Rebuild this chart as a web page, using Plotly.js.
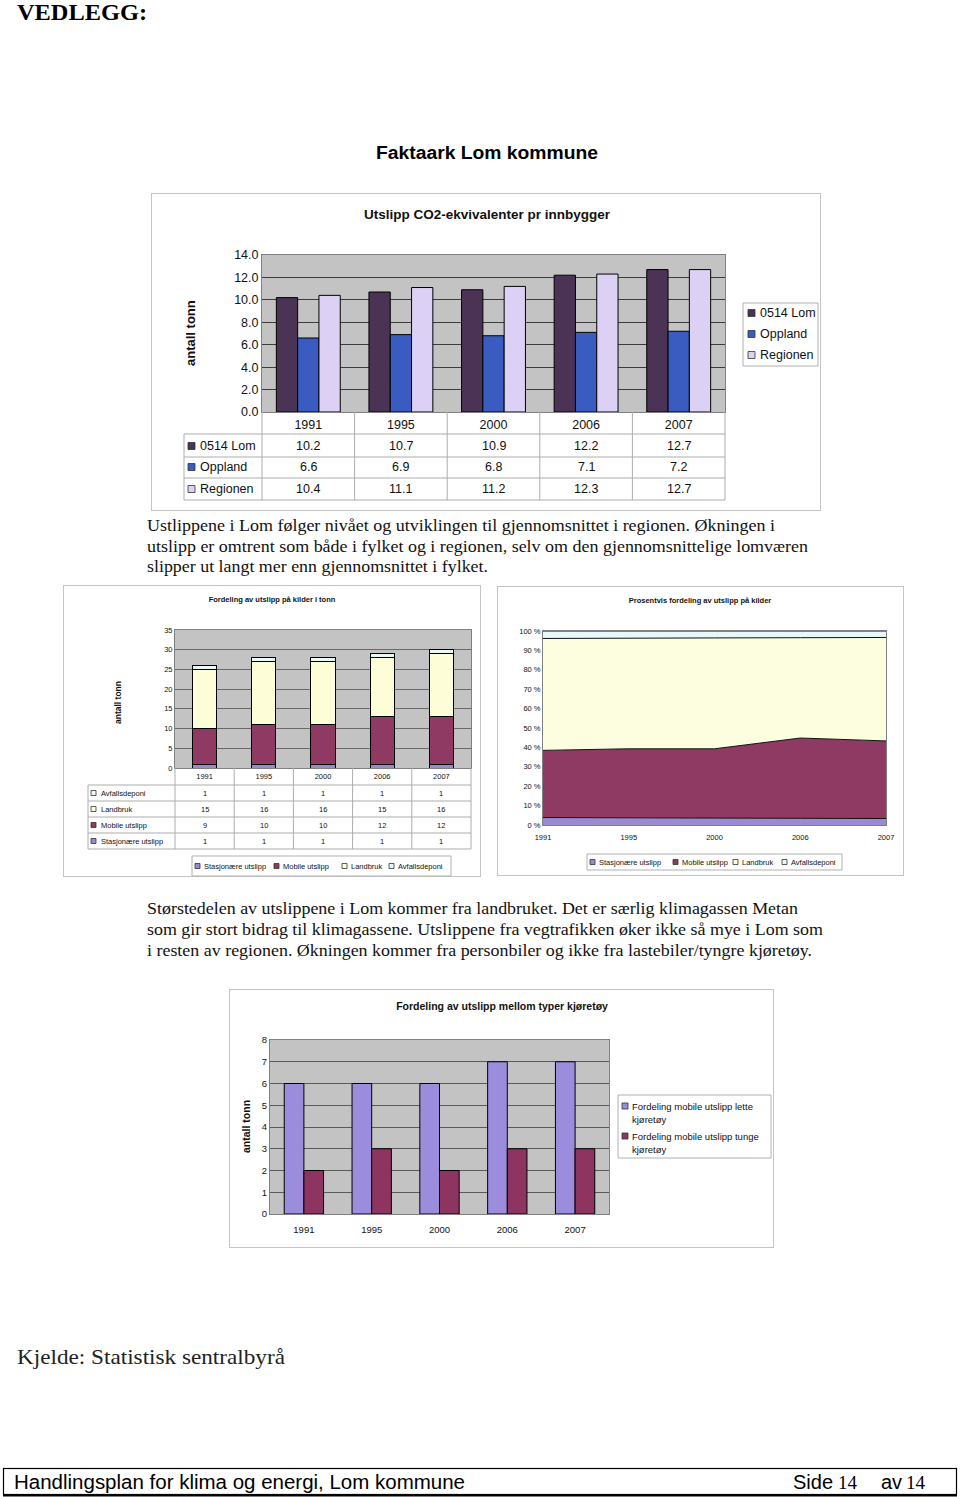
<!DOCTYPE html>
<html><head><meta charset="utf-8">
<script src="https://cdn.plot.ly/plotly-3.0.1.min.js"></script>
<style>
body{margin:0;width:960px;height:1497px;position:relative;background:#fff;overflow:hidden;}
.chart{position:absolute;}
svg.page{position:absolute;left:0;top:0;}
</style></head><body>
<svg class="page" width="960" height="1497" xmlns="http://www.w3.org/2000/svg">
<defs><linearGradient id="ug" x1="0" x2="1" y1="0" y2="0"><stop offset="0" stop-color="#777"/><stop offset="0.7" stop-color="#999"/><stop offset="1" stop-color="#fff"/></linearGradient></defs>
<text x="17" y="20" font-family="Liberation Serif" font-weight="bold" font-size="23" textLength="130" lengthAdjust="spacingAndGlyphs">VEDLEGG:</text>
<line x1="35" y1="28" x2="320" y2="28" stroke="url(#ug)" stroke-width="1.6"/>
<text x="487" y="159" text-anchor="middle" font-family="Liberation Sans" font-weight="bold" font-size="17.5" textLength="222" lengthAdjust="spacingAndGlyphs">Faktaark Lom kommune</text>
<rect x="151.5" y="193.5" width="669" height="317" fill="none" stroke="#c4c4c4"/>
<rect x="63.5" y="585.5" width="417" height="291" fill="none" stroke="#c4c4c4"/>
<rect x="497.5" y="586.5" width="406" height="289" fill="none" stroke="#c4c4c4"/>
<rect x="229.5" y="989.5" width="544" height="258" fill="none" stroke="#c4c4c4"/>
<g font-family="Liberation Serif" font-size="17" fill="#111">
<text x="147" y="531" textLength="628" lengthAdjust="spacingAndGlyphs">Ustlippene i Lom følger nivået og utviklingen til gjennomsnittet i regionen. Økningen i</text>
<text x="147" y="552" textLength="661" lengthAdjust="spacingAndGlyphs">utslipp er omtrent som både i fylket og i regionen, selv om den gjennomsnittelige lomværen</text>
<text x="147" y="572" textLength="341" lengthAdjust="spacingAndGlyphs">slipper ut langt mer enn gjennomsnittet i fylket.</text>
<text x="147" y="914" textLength="651" lengthAdjust="spacingAndGlyphs">Størstedelen av utslippene i Lom kommer fra landbruket. Det er særlig klimagassen Metan</text>
<text x="147" y="935" textLength="676" lengthAdjust="spacingAndGlyphs">som gir stort bidrag til klimagassene. Utslippene fra vegtrafikken øker ikke så mye i Lom som</text>
<text x="147" y="956" textLength="665" lengthAdjust="spacingAndGlyphs">i resten av regionen. Økningen kommer fra personbiler og ikke fra lastebiler/tyngre kjøretøy.</text>
</g>
<text x="17" y="1364" font-family="Liberation Serif" font-size="21" fill="#222" textLength="268" lengthAdjust="spacingAndGlyphs">Kjelde: Statistisk sentralbyrå</text>
<rect x="3.5" y="1468.5" width="953" height="26" fill="none" stroke="#000" stroke-width="1.2"/>
<line x1="3" y1="1495.5" x2="957" y2="1495.5" stroke="#000" stroke-width="2"/>
<text x="14" y="1489" font-family="Liberation Sans" font-size="20" textLength="451" lengthAdjust="spacingAndGlyphs">Handlingsplan for klima og energi, Lom kommune</text>
<text x="793" y="1489" font-family="Liberation Sans" font-size="20">Side</text>
<text x="838" y="1489" font-family="Liberation Serif" font-size="19">14</text>
<text x="881" y="1489" font-family="Liberation Sans" font-size="20">av</text>
<text x="906" y="1489" font-family="Liberation Serif" font-size="19">14</text>
</svg>
<div id="c1" class="chart" style="left:151px;top:193px;width:670px;height:318px"></div>
<div id="c2" class="chart" style="left:63px;top:585px;width:418px;height:292px"></div>
<div id="c3" class="chart" style="left:497px;top:586px;width:407px;height:290px"></div>
<div id="c4" class="chart" style="left:229px;top:989px;width:545px;height:259px"></div>
<script>
// ---------- data ----------
const years = ['1991', '1995', '2000', '2006', '2007'];
const co2Names = ['0514 Lom', 'Oppland', 'Regionen'];
const lomCO2 = [10.2, 10.7, 10.9, 12.2, 12.7];
const opplandCO2 = [6.6, 6.9, 6.8, 7.1, 7.2];
const regionenCO2 = [10.4, 11.1, 11.2, 12.3, 12.7];
const kildeNames = ['Stasjonære utslipp', 'Mobile utslipp', 'Landbruk', 'Avfallsdeponi'];
const stasjonaere = [1, 1, 1, 1, 1];
const mobile = [9, 10, 10, 12, 12];
const landbruk = [15, 16, 16, 15, 16];
const avfallsdeponi = [1, 1, 1, 1, 1];
const kjoretoyNames = ['Fordeling mobile utslipp lette kjøretøy', 'Fordeling mobile utslipp tunge kjøretøy'];
const lette = [6, 6, 6, 7, 7];
const tunge = [2, 3, 2, 3, 3];

// ---------- helpers ----------
const FONT = 'Liberation Sans, Arial, sans-serif';
const TXT = '#111';
const cfg = {displayModeBar: false, staticPlot: true};
const catRange = [-0.5, years.length - 0.5];
function geom(L, T, R, B) { const W = R - L, H = B - T; return {x: X => (X - L) / W, y: Y => (B - Y) / H}; }
function hline(g, X0, X1, Y, c) { return {type: 'line', xref: 'paper', yref: 'paper', x0: g.x(X0), x1: g.x(X1), y0: g.y(Y), y1: g.y(Y), line: {color: c || '#adadad', width: 1}}; }
function vline(g, X, Y0, Y1, c) { return {type: 'line', xref: 'paper', yref: 'paper', x0: g.x(X), x1: g.x(X), y0: g.y(Y0), y1: g.y(Y1), line: {color: c || '#adadad', width: 1}}; }
function box(g, X0, Y0, X1, Y1, c) { return {type: 'rect', xref: 'paper', yref: 'paper', x0: g.x(X0), x1: g.x(X1), y0: g.y(Y1), y1: g.y(Y0), line: {color: c || '#b0b0b0', width: 1}, fillcolor: 'rgba(0,0,0,0)'}; }
function key(g, X, Y, s, color) { return {type: 'rect', xref: 'paper', yref: 'paper', x0: g.x(X), x1: g.x(X + s), y0: g.y(Y + s / 2), y1: g.y(Y - s / 2), fillcolor: color, line: {color: '#333', width: 0.8}}; }
function label(g, X, Y, text, size, anchor, bold) {
  return {xref: 'paper', yref: 'paper', x: g.x(X), y: g.y(Y), xanchor: anchor || 'left', yanchor: 'middle', text: bold ? '<b>' + text + '</b>' : text, showarrow: false, font: {size: size, color: TXT, family: FONT}};
}
function ytitle(g, X, Y, text, size) {
  return {xref: 'paper', yref: 'paper', x: g.x(X), y: g.y(Y), xanchor: 'center', yanchor: 'middle', textangle: -90, text: '<b>' + text + '</b>', showarrow: false, font: {size: size, color: TXT, family: FONT}};
}
function cell(g, cat, Y, text, size) {
  return {xref: 'x', yref: 'paper', x: cat, y: g.y(Y), xanchor: 'center', yanchor: 'middle', text: text, showarrow: false, font: {size: size, color: TXT, family: FONT}};
}
function baseLayout(w, h, m, titleText, tx, ty, tsize) {
  return {
    width: w, height: h, margin: m, paper_bgcolor: 'rgba(0,0,0,0)', plot_bgcolor: '#c3c3c3',
    showlegend: false, font: {family: FONT, color: TXT},
    title: {text: '<b>' + titleText + '</b>', xref: 'container', yref: 'container', x: tx, y: ty, xanchor: 'center', yanchor: 'middle', font: {size: tsize, family: FONT, color: TXT}}
  };
}

// ---------- chart 1 ----------
(function () {
  const g = geom(262, 255, 725, 412);
  const colors = ['#4a3355', '#3a5cc0', '#dcd0f4'];
  const series = [lomCO2, opplandCO2, regionenCO2];
  const traces = series.map((v, i) => ({type: 'bar', x: years, y: v, name: co2Names[i], marker: {color: colors[i], line: {color: '#000', width: 1}}}));
  const L = baseLayout(670, 318, {l: 111, r: 96, t: 62, b: 99}, 'Utslipp CO2-ekvivalenter pr innbygger', 0.5015, 0.934, 13.5);
  L.bargap = 0.31; L.bargroupgap = 0;
  L.xaxis = {type: 'category', range: catRange, autorange: false, categoryorder: 'array', categoryarray: years, showgrid: false, showline: true, linecolor: '#808080', mirror: true, ticks: '', tickfont: {size: 12.5}, ticklabelstandoff: 1};
  L.yaxis = {range: [0, 14], autorange: false, dtick: 2, tickformat: '.1f', showgrid: true, gridcolor: '#3c3c3c', gridwidth: 1, zeroline: false, showline: true, linecolor: '#808080', mirror: true, ticks: '', tickfont: {size: 12.5}};
  const rows = [446, 467, 489];
  const shapes = [], ann = [];
  [434, 457, 478, 500].forEach(Y => shapes.push(hline(g, 184, 725, Y)));
  for (let k = 0; k <= years.length; k++) shapes.push(vline(g, 262 + k * 92.6, 412, 500));
  shapes.push(vline(g, 184, 434, 500));
  series.forEach((v, i) => {
    shapes.push(key(g, 188, rows[i], 7, colors[i]));
    ann.push(label(g, 198, rows[i], co2Names[i], 12.5));
    v.forEach((val, j) => ann.push(cell(g, j, rows[i], val.toFixed(1), 12.5)));
  });
  // legend
  shapes.push(box(g, 743, 303, 818, 366));
  [313, 334, 355].forEach((Y, i) => { shapes.push(key(g, 748, Y, 7, colors[i])); ann.push(label(g, 758, Y, co2Names[i], 12.5)); });
  ann.push(ytitle(g, 190, 333, 'antall tonn', 13));
  L.shapes = shapes; L.annotations = ann;
  Plotly.newPlot('c1', traces, L, cfg);
})();

// ---------- chart 2 ----------
const kildeColors = ['#9a8ad2', '#8e3a62', '#fdfdd8', '#eaf8f8'];
const kildeSeries = [stasjonaere, mobile, landbruk, avfallsdeponi];
(function () {
  const g = geom(175, 630, 471, 768);
  const traces = kildeSeries.map((v, i) => ({type: 'bar', x: years, y: v, name: kildeNames[i], marker: {color: kildeColors[i], line: {color: '#000', width: 1}}}));
  const L = baseLayout(418, 292, {l: 112, r: 10, t: 45, b: 109}, 'Fordeling av utslipp på kilder i tonn', 0.5, 0.952, 7.5);
  L.barmode = 'stack'; L.bargap = 0.59;
  L.xaxis = {type: 'category', range: catRange, autorange: false, categoryorder: 'array', categoryarray: years, showgrid: false, showline: true, linecolor: '#808080', mirror: true, ticks: '', tickfont: {size: 7.5}, ticklabelstandoff: 1};
  L.yaxis = {range: [0, 35], autorange: false, dtick: 5, showgrid: true, gridcolor: '#6a6a6a', gridwidth: 1, zeroline: false, showline: true, linecolor: '#808080', mirror: true, ticks: '', tickfont: {size: 7.5}};
  const shapes = [], ann = [];
  [785, 801, 817, 833, 849].forEach(Y => shapes.push(hline(g, 88, 471, Y)));
  for (let k = 0; k <= years.length; k++) shapes.push(vline(g, 175 + k * 59.2, 768, 849));
  shapes.push(vline(g, 88, 785, 849));
  const rowY = [841, 825, 809, 793];
  kildeSeries.forEach((v, i) => {
    shapes.push(key(g, 91, rowY[i], 5, kildeColors[i]));
    ann.push(label(g, 99, rowY[i], kildeNames[i], 7.5));
    v.forEach((val, j) => ann.push(cell(g, j, rowY[i], String(val), 7.5)));
  });
  // legend
  shapes.push(box(g, 192, 856, 451, 876));
  const kx = [195, 274, 342, 389];
  kx.forEach((X, i) => { shapes.push(key(g, X, 866, 5, kildeColors[i])); ann.push(label(g, X + 7, 866, kildeNames[i], 7.5)); });
  ann.push(ytitle(g, 118, 703, 'antall tonn', 8.5));
  L.shapes = shapes; L.annotations = ann;
  Plotly.newPlot('c2', traces, L, cfg);
})();

// ---------- chart 3 ----------
(function () {
  const g = geom(543, 631, 886, 825);
  const fills = ['#9a8ad2', '#8e3a62', '#fdfde0', '#e6f8fa'];
  const traces = kildeSeries.map((v, i) => ({type: 'scatter', mode: 'lines', x: years, y: v, name: kildeNames[i], stackgroup: 'pct', groupnorm: 'percent', fillcolor: fills[i], line: {color: '#111', width: 1}}));
  const L = baseLayout(407, 290, {l: 46, r: 18, t: 45, b: 51}, 'Prosentvis fordeling av utslipp på kilder', 0.4988, 0.952, 7.5);
  L.plot_bgcolor = '#ffffff';
  L.xaxis = {type: 'category', range: [0, 4], showgrid: false, showline: true, linecolor: '#808080', mirror: true, ticks: '', tickfont: {size: 7.5}, ticklabelstandoff: 5};
  L.yaxis = {range: [0, 100], dtick: 10, ticksuffix: ' %', showgrid: false, zeroline: false, showline: true, linecolor: '#808080', mirror: true, ticks: '', tickfont: {size: 7.5}};
  const shapes = [], ann = [];
  shapes.push(box(g, 587, 854, 842, 870));
  const kx = [590, 673, 733, 782];
  kx.forEach((X, i) => { shapes.push(key(g, X, 862, 5, kildeColors[i])); ann.push(label(g, X + 7, 862, kildeNames[i], 7.5)); });
  L.shapes = shapes; L.annotations = ann;
  Plotly.newPlot('c3', traces, L, cfg);
})();

// ---------- chart 4 ----------
(function () {
  const g = geom(270, 1040, 609, 1214);
  const colors = ['#9c8cdc', '#8e3460'];
  const series = [lette, tunge];
  const traces = series.map((v, i) => ({type: 'bar', x: years, y: v, name: kjoretoyNames[i], marker: {color: colors[i], line: {color: '#000', width: 1}}}));
  const L = baseLayout(545, 259, {l: 41, r: 165, t: 51, b: 34}, 'Fordeling av utslipp mellom typer kjøretøy', 0.501, 0.934, 10.5);
  L.bargap = 0.42; L.bargroupgap = 0;
  L.xaxis = {type: 'category', showgrid: false, showline: true, linecolor: '#808080', mirror: true, ticks: '', tickfont: {size: 9.5}, ticklabelstandoff: 7};
  L.yaxis = {range: [0, 8], dtick: 1, showgrid: true, gridcolor: '#5a5a5a', gridwidth: 1, zeroline: false, showline: true, linecolor: '#808080', mirror: true, ticks: '', tickfont: {size: 9.5}};
  const shapes = [], ann = [];
  shapes.push(box(g, 618, 1095, 771, 1158));
  const legRows = [1106, 1136];
  series.forEach((v, i) => {
    shapes.push(key(g, 622, legRows[i], 6, colors[i]));
    const words = kjoretoyNames[i].split(' ');
    ann.push(label(g, 630, legRows[i], words.slice(0, -1).join(' '), 9.5));
    ann.push(label(g, 630, legRows[i] + 13, words[words.length - 1], 9.5));
  });
  ann.push(ytitle(g, 246, 1127, 'antall tonn', 10.5));
  L.shapes = shapes; L.annotations = ann;
  Plotly.newPlot('c4', traces, L, cfg);
})();
</script>
</body></html>
